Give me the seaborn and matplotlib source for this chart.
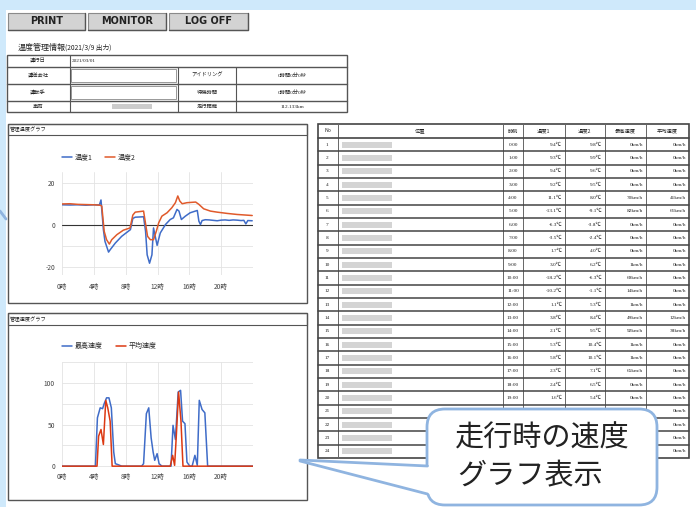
import matplotlib
matplotlib.use('Agg')
import matplotlib.pyplot as plt
from matplotlib.patches import Rectangle, FancyBboxPatch, Polygon
import pandas as pd
import seaborn as sns

# ---- chart data (hours since 0:00) ----
temp1_hours = [0, 1, 2, 3, 4, 4.7, 4.9, 5.2, 5.4, 5.85, 6.05, 6.7, 7.5, 8.6, 8.9, 9.2,
               10.25, 10.5, 10.7, 11.0, 11.3, 11.5, 11.95, 12.35, 13.0, 13.6, 14.0, 14.45,
               14.7, 15.0, 15.5, 16.1, 17.0, 17.2, 17.4, 17.6, 18.0, 18.5, 19.0, 19.5, 20.0,
               20.5, 21.0, 21.5, 22.0, 22.5, 22.85, 23.1, 23.35, 23.9]
temp1_vals = [9.4, 9.3, 9.4, 9.2, 9.4, 9.3, 11.7, -2.4, -8.0, -13.1, -12.0, -8.8, -5.6, -2.4, 2.9, 3.5,
              3.7, -3.2, -14.4, -18.4, -14.4, -1.6, -9.9, -4.0, 0.0, 2.4, 3.2, 7.2,
              6.4, 2.4, 4.0, 5.6, 6.7, 1.6, 0.0, 1.9, 2.3, 2.2, 2.0, 1.8, 2.1,
              2.2, 2.0, 2.2, 2.1, 1.9, 2.0, 0.3, 1.9, 1.8]
temp2_hours = [0, 1, 2, 3, 4, 4.8, 5.0, 5.3, 5.6, 5.95, 6.25, 6.9, 7.7, 8.55, 8.9, 9.2, 10.25,
               10.45, 10.75, 11.1, 11.5, 11.85, 12.15, 12.55, 13.2, 13.8, 14.25, 14.55, 14.8,
               15.1, 15.7, 16.8, 17.2, 17.8, 18.65, 19.5, 20.75, 22.0, 23.9]
temp2_vals = [9.8, 9.9, 9.6, 9.5, 9.4, 9.2, 8.8, -3.2, -7.2, -9.3, -7.2, -4.8, -2.7, -1.6, 4.5, 5.9, 6.4,
              1.6, -5.6, -7.2, -7.2, -3.2, 0.8, 4.0, 5.6, 8.0, 10.4, 13.6, 11.2,
              9.9, 10.4, 10.7, 9.6, 7.5, 6.4, 5.9, 5.3, 4.8, 4.3]

max_hours = [0, 4.2, 4.45, 4.8, 5.1, 5.3, 5.6, 5.9, 6.2, 6.5, 6.7, 7.1, 7.5, 10.0, 10.25, 10.6,
             10.9, 11.2, 11.45, 11.65, 11.95, 12.2, 12.55, 13.7, 13.95, 14.25, 14.6, 14.9, 15.15,
             15.45, 15.7, 16.05, 16.35, 16.7, 17.0, 17.25, 17.6, 17.95, 18.3, 24]
max_vals = [0, 0, 58, 70, 69, 75, 82, 82, 70, 17, 3, 1.6, 0, 0, 3, 63,
            70, 34, 17, 7, 15, 3, 0, 0, 49, 32, 89, 91, 54,
            51, 5, 0, 0, 13, 1, 79, 68, 64, 0, 0]
avg_hours = [0, 4.4, 4.6, 4.9, 5.2, 5.5, 5.75, 6.05, 6.3, 13.6, 13.9, 14.15, 14.35, 14.65, 14.95, 15.2, 24]
avg_vals = [0, 0, 36, 44, 26, 79, 70, 54, 0, 0, 13, 1, 34, 89, 54, 0, 0]

hour_ticks = [0, 4, 8, 12, 16, 20]
hour_labels = ['0時', '4時', '8時', '12時', '16時', '20時']

# ---- table data (rows 21-24 are hidden behind the callout except the last column) ----
tbl_header = ['No', '位置', '時刻', '温度1', '温度2', '最高速度', '平均速度']
tbl_temp1 = [9.4, 9.3, 9.4, 9.2, 11.1, -13.1, -6.3, -3.5, 1.7, 3.0, -18.2, -10.2,
             1.1, 3.8, 2.1, 5.3, 5.8, 2.3, 2.4, 1.6]
tbl_temp2 = [9.8, 9.9, 9.6, 9.5, 8.0, -9.1, -3.8, -2.4, 4.0, 6.2, -6.3, -1.1,
             5.3, 8.4, 9.5, 10.4, 10.1, 7.1, 6.5, 5.4]
tbl_max = [0, 0, 0, 0, 70, 82, 0, 0, 0, 1, 69, 14, 1, 49, 92, 1, 1, 65, 0, 0]
tbl_avg = [0, 0, 0, 0, 41, 61, 0, 0, 0, 0, 0, 0, 0, 12, 38, 0, 0, 0, 0, 0, 0, 0, 0, 0]

info_labels = ['運行日', '運送会社', '運転手', '車両']
info_labels2 = ['アイドリング', '待機時間', '走行距離']
info_values2 = ['0時間0分0秒', '0時間0分0秒', '112.133km']

sns.set_style('white')
plt.rcParams['font.family'] = ['Noto Sans CJK JP', 'DejaVu Sans']

W, H = 696, 507
fig = plt.figure(figsize=(W / 100, H / 100), dpi=100)
fig.patch.set_facecolor('#cfe9fb')
page = fig.add_axes([0, 0, 1, 1])
page.set_xlim(0, W)
page.set_ylim(H, 0)
page.axis('off')

serif = ['Liberation Serif', 'Noto Sans CJK JP']
ink = '#222222'


def box(x0, y0, x1, y1, fc='none', ec='#555555', lw=0.8, z=2):
    page.add_patch(Rectangle((x0, y0), x1 - x0, y1 - y0, facecolor=fc,
                             edgecolor=ec, linewidth=lw, zorder=z))


def rect(x0, y0, x1, y1):
    return [x0 / W, 1 - y1 / H, (x1 - x0) / W, (y1 - y0) / H]


box(6, 10, W + 5, H + 5, fc='white', ec='none', z=0)

# buttons
for (x0, x1), lab in zip([(8, 85), (88, 166), (169, 248)], ['PRINT', 'MONITOR', 'LOG OFF']):
    box(x0, 13, x1, 30, fc='#d3d3d3', ec='#8a8a8a', lw=0.8)
    page.plot([x1, x1, x0], [13, 30, 30], color='#555555', lw=1.0, zorder=3)
    page.text((x0 + x1) / 2, 21.5, lab, ha='center', va='center', fontsize=7,
              fontweight='bold', color=ink, family=['DejaVu Sans'])

page.text(18, 47, '温度管理情報', fontsize=5.8, va='center', color=ink)
page.text(65, 47.5, '(2021/3/9 出力)', fontsize=4.8, va='center', color=ink)

# info table
box(7, 55, 347, 112, ec='#555555', lw=1.0)
for y in [67, 84, 101]:
    page.plot([7, 347], [y, y], color='#555555', lw=1.0, zorder=3)
page.plot([70, 70], [55, 112], color='#555555', lw=0.8, zorder=3)
for x in [178, 236]:
    page.plot([x, x], [67, 112], color='#555555', lw=0.8, zorder=3)
row_y = [61, 75.5, 92.5, 106.5]
for lab, y in zip(info_labels, row_y):
    page.text(38, y, lab, ha='center', va='center', fontsize=3.8, color=ink)
page.text(72, 61, '2021/03/01', va='center', fontsize=3.8, color=ink, family=serif)
for lab, val, y in zip(info_labels2, info_values2, row_y[1:]):
    page.text(207, y, lab, ha='center', va='center', fontsize=3.8, color=ink)
    page.text(292, y, val, ha='center', va='center', fontsize=3.8, color=ink, family=serif)
box(71, 69, 176, 82, ec='#888888', lw=0.6)
box(71, 86, 176, 99, ec='#888888', lw=0.6)
box(112, 103.5, 152, 109, fc='#cccccc', ec='none', z=3)

# graph panels
box(8, 124, 307, 303, ec='#555555', lw=1.0)
box(8, 124, 307, 135, ec='#555555', lw=0.8)
page.text(10, 129.5, '管理温度グラフ', va='center', fontsize=3.8, color=ink)
box(8, 313, 307, 500, ec='#555555', lw=1.0)
box(8, 313, 307, 325, ec='#555555', lw=0.8)
page.text(10, 319, '管理速度グラフ', va='center', fontsize=3.8, color=ink)

# right table
tx = [318, 338, 503, 523, 565, 605, 646, 689]
ty0, ty1 = 124, 138
rh = (458 - 138) / 24
box(tx[0], ty0, tx[-1], 458, ec='#444444', lw=1.2)
for x in tx[1:-1]:
    page.plot([x, x], [ty0, 458], color='#666666', lw=0.7, zorder=3)
page.plot([tx[0], tx[-1]], [ty1, ty1], color='#444444', lw=1.2, zorder=3)
for i, lab in enumerate(tbl_header):
    page.text((tx[i] + tx[i + 1]) / 2, (ty0 + ty1) / 2, lab, ha='center', va='center',
              fontsize=3.8, color=ink)
for r in range(24):
    y0 = ty1 + r * rh
    yc = y0 + rh / 2
    if r > 0:
        page.plot([tx[0], tx[-1]], [y0, y0], color='#444444', lw=1.1, zorder=3)
    page.text(327, yc, str(r + 1), ha='center', va='center', fontsize=3.8, family=serif, color=ink)
    box(342, yc - 3, 392, yc + 3, fc='#d4d4d4', ec='none', z=2)
    page.text(686, yc, f'{tbl_avg[r]}km/h', ha='right', va='center', fontsize=3.8, family=serif, color=ink)
    if r < len(tbl_temp1):
        page.text(513, yc, f'{r}:00', ha='center', va='center', fontsize=3.8, family=serif, color=ink)
        page.text(562, yc, f'{tbl_temp1[r]:.1f}℃', ha='right', va='center', fontsize=3.8, family=serif, color=ink)
        page.text(602, yc, f'{tbl_temp2[r]:.1f}℃', ha='right', va='center', fontsize=3.8, family=serif, color=ink)
        page.text(643, yc, f'{tbl_max[r]}km/h', ha='right', va='center', fontsize=3.8, family=serif, color=ink)

# callout
blue_edge = '#8fb4e0'
page.add_patch(FancyBboxPatch((437, 419), 210, 76, boxstyle='round,pad=10,rounding_size=18',
                              facecolor='white', edgecolor=blue_edge, linewidth=2, zorder=10))
page.add_patch(Polygon([(300, 460), (430, 466), (430, 494)], closed=True,
                       facecolor='white', edgecolor='none', zorder=11))
page.plot([300, 427.5], [460, 466], color=blue_edge, lw=2, zorder=12, solid_capstyle='round')
page.plot([300, 427.5], [461, 494], color=blue_edge, lw=2, zorder=12, solid_capstyle='round')
page.text(455, 439, '走行時の速度', va='center', fontsize=21, color=ink, zorder=13)
page.text(457, 476, 'グラフ表示', va='center', fontsize=21, color=ink, zorder=13)
page.plot([0, 6], [211, 219], color=blue_edge, lw=2, zorder=12)

# ---- line charts ----
temp_df = pd.concat([
    pd.DataFrame({'hour': temp1_hours, 'value': temp1_vals, 'series': '温度1'}),
    pd.DataFrame({'hour': temp2_hours, 'value': temp2_vals, 'series': '温度2'}),
])
speed_df = pd.concat([
    pd.DataFrame({'hour': max_hours, 'value': max_vals, 'series': '最高速度'}),
    pd.DataFrame({'hour': avg_hours, 'value': avg_vals, 'series': '平均速度'}),
])


def style_axes(ax, xpad):
    ax.set_xlim(0, 24)
    ax.set_xticks(hour_ticks)
    ax.set_xticklabels(hour_labels)
    ax.set_xlabel('')
    ax.set_ylabel('')
    ax.grid(True, color='#e3e3e3', lw=0.6)
    for s in ax.spines.values():
        s.set_visible(False)
    ax.tick_params(axis='both', length=0, labelsize=4.8, labelcolor='#444444')
    ax.tick_params(axis='y', pad=5)
    ax.tick_params(axis='x', pad=xpad)


ax1 = fig.add_axes(rect(62, 172, 253, 275))
sns.lineplot(data=temp_df, x='hour', y='value', hue='series', sort=False,
             palette=['#3f6cc8', '#e05a2b'], linewidth=1.1, ax=ax1)
style_axes(ax1, 6)
ax1.set_ylim(-24, 25)
ax1.set_yticks([-20, -10, 0, 10, 20])
ax1.set_yticklabels(['-20', '', '0', '', '20'])
ax1.axhline(0, color='#333333', lw=0.8, zorder=1)
ax1.set_xticks(range(0, 25), minor=True)
ax1.tick_params(axis='x', which='minor', length=3, direction='in', color='#bbbbbb', width=0.5)
sns.move_legend(ax1, 'center left', bbox_to_anchor=(0, 1.146), ncol=2, frameon=False,
                title=None, fontsize=5, handlelength=1.45, handletextpad=0.45,
                columnspacing=1.7, borderpad=0, borderaxespad=0)

ax2 = fig.add_axes(rect(62, 362, 253, 467))
sns.lineplot(data=speed_df, x='hour', y='value', hue='series', sort=False,
             palette=['#3f6cc8', '#dc3912'], linewidth=1.1, ax=ax2)
style_axes(ax2, 4)
ax2.set_ylim(-1, 125)
ax2.set_yticks([0, 25, 50, 75, 100, 125])
ax2.set_yticklabels(['0', '', '50', '', '100', ''])
sns.move_legend(ax2, 'center left', bbox_to_anchor=(0, 1.15), ncol=2, frameon=False,
                title=None, fontsize=5, handlelength=1.45, handletextpad=0.4,
                columnspacing=1.9, borderpad=0, borderaxespad=0)

fig.savefig('out.png', dpi=100, facecolor=fig.get_facecolor())
